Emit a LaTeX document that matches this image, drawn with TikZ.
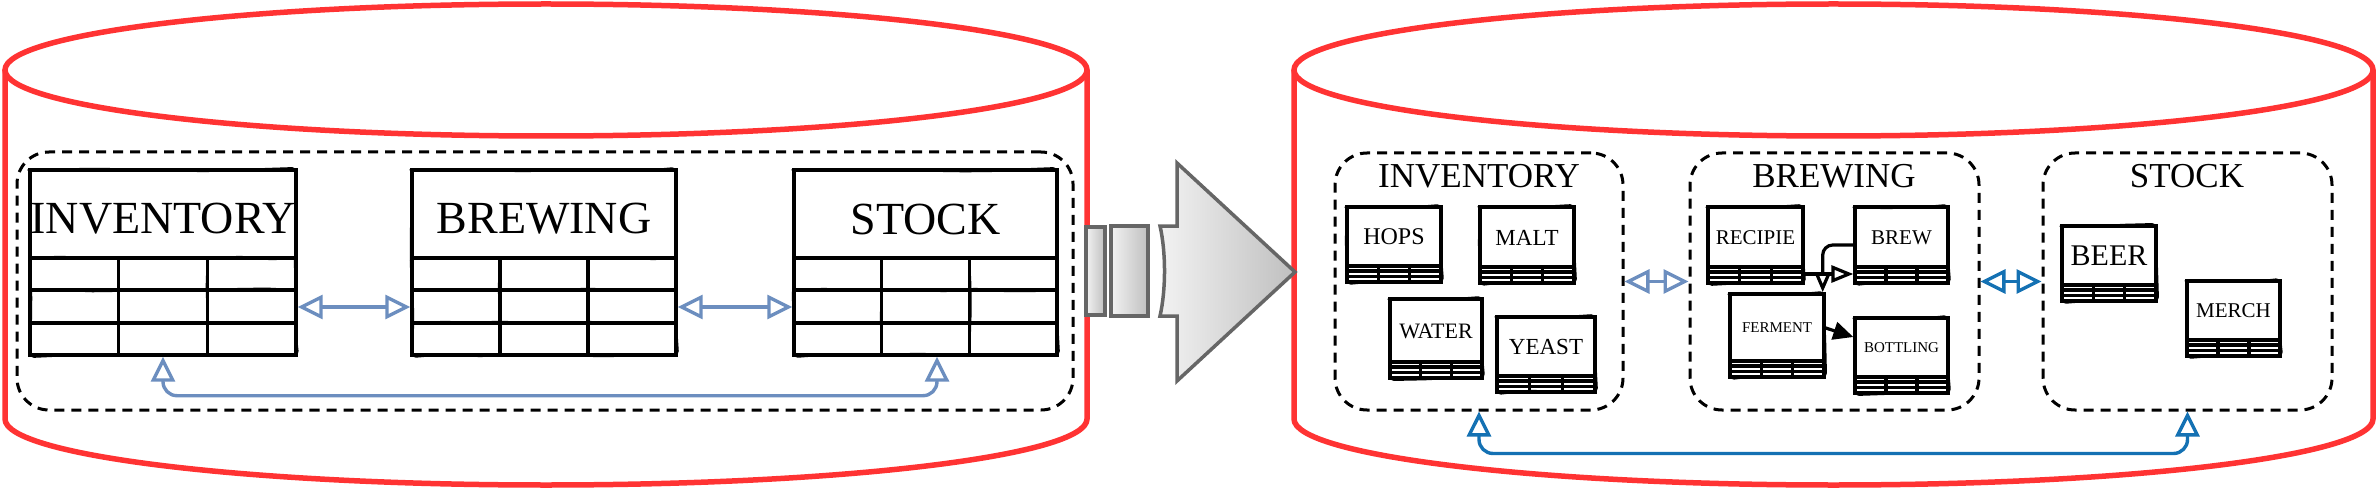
\documentclass[tikz,border=0pt]{standalone}
\usepackage{fontspec}
\setmainfont{Liberation Serif}
\usetikzlibrary{arrows.meta,fit,calc,decorations.pathmorphing}
\definecolor{redc}{HTML}{FF3333}
\definecolor{lblue}{HTML}{6C8EBF}
\definecolor{dblue}{HTML}{1471B3}
\definecolor{arrgray}{HTML}{666666}

% big table: name, x1, y1, x2, y2, text
\newcommand\btab[6]{%
  \node[tb, fit={(#2,#3) (#4,#5)}] (#1) {};
  \draw[sketchy] (#2,#3) rectangle (#4,#5);
  \pgfmathsetmacro\hA{#3+88}\pgfmathsetmacro\hB{#3+120}\pgfmathsetmacro\hC{#3+153}%
  \pgfmathsetmacro\vA{#2+(#4-#2)/3}\pgfmathsetmacro\vB{#2+2*(#4-#2)/3}%
  \pgfmathsetmacro\xm{(#2+#4)/2}\pgfmathsetmacro\ym{#3+49}%
  \draw[tl] (#2,\hA) -- (#4,\hA) (#2,\hB) -- (#4,\hB) (#2,\hC) -- (#4,\hC)
            (\vA,\hA) -- (\vA,#5) (\vB,\hA) -- (\vB,#5);
  \draw[sketchy] (#2,\hA) -- (#4,\hA) (#2,\hB) -- (#4,\hB) (#2,\hC) -- (#4,\hC)
            (\vA,\hA) -- (\vA,#5) (\vB,\hA) -- (\vB,#5);
  \node[btitle] (#1T) at (\xm,\ym) {#6};
}
% mini table: name, x1, y1, x2, y2, text, font size
\newcommand\mtab[7]{%
  \node[mtbox, fit={(#2,#3) (#4,#5)}] (#1) {};
  \draw[sketchy] (#2,#3) rectangle (#4,#5);
  \pgfmathsetmacro\hA{#5-16}\pgfmathsetmacro\hB{#5-11}\pgfmathsetmacro\hC{#5-5.5}%
  \pgfmathsetmacro\vA{#2+(#4-#2)/3}\pgfmathsetmacro\vB{#2+2*(#4-#2)/3}%
  \pgfmathsetmacro\xm{(#2+#4)/2}\pgfmathsetmacro\ym{(#3+#5-15)/2}%
  \draw[mtline] (#2,\hA) -- (#4,\hA) (#2,\hB) -- (#4,\hB) (#2,\hC) -- (#4,\hC)
            (\vA,\hA) -- (\vA,#5) (\vB,\hA) -- (\vB,#5);
  \node[font=\fontsize{#7}{#7}\selectfont, inner sep=0pt] (#1T) at (\xm,\ym) {#6};
}

\begin{document}
\pgfmathsetseed{7}
\begin{tikzpicture}[x=1pt,y=-1pt,
  cyl/.style={draw=redc, line width=5.5pt},
  grp/.style={draw=black, line width=3pt, dash pattern=on 10pt off 7pt, rounded corners=32pt, inner sep=0pt},
  tb/.style={draw=black, line width=3.4pt, inner sep=0pt},
  tl/.style={draw=black, line width=3.2pt},
  sketchy/.style={draw=black, line width=1.5pt, rounded corners=4pt, decorate,
     decoration={random steps, segment length=30pt, amplitude=1.6pt}},
  btitle/.style={font=\fontsize{46}{46}\selectfont, inner sep=0pt},
  gtitle/.style={font=\fontsize{35}{35}\selectfont, inner sep=0pt},
  mtbox/.style={draw=black, line width=3.4pt, inner sep=0pt},
  mtline/.style={draw=black, line width=3.2pt},
  opentip/.style={>={Triangle[open,length=25pt,width=24pt]}},
  lconn/.style={draw=lblue, line width=3.4pt, opentip},
  dconn/.style={draw=dblue, line width=3.4pt, opentip},
  bconn/.style={draw=black, line width=3.2pt},
  stripe/.style={draw=arrgray, line width=3.5pt, left color=gray!10, right color=gray!50},
]
\useasboundingbox (0,0) rectangle (2376,489);

% cylinders
\draw[cyl, fill=white] (5,70) -- (5,419) .. controls (5,455.5) and (247.2,485) .. (546,485)
   .. controls (844.8,485) and (1087,455.5) .. (1087,419) -- (1087,70);
\draw[cyl] (546,70) ellipse [x radius=541, y radius=66];
\draw[cyl, fill=white] (1294,70) -- (1294,419) .. controls (1294,455.5) and (1536,485) .. (1833.5,485)
   .. controls (2131,485) and (2373,455.5) .. (2373,419) -- (2373,70);
\draw[cyl] (1833.5,70) ellipse [x radius=539.5, y radius=66];

% left group
\node[grp, fit={(17,152) (1073,410)}] (lgrp) {};
\btab{tinv}{30}{170}{296}{355}{INVENTORY}
\btab{tbrew}{412}{170}{676}{355}{BREWING}
\btab{tstock}{794}{170}{1057}{355}{STOCK}

\draw[lconn,<->] ([yshift=-44.5pt]tinv.east) -- ([yshift=-44.5pt]tbrew.west);
\draw[lconn,<->] ([yshift=-44.5pt]tbrew.east) -- ([yshift=-44.5pt]tstock.west);
\draw[lconn,<->, rounded corners=14pt] (tinv.south) -- ++(0,39) -| ([xshift=11.5pt]tstock.south);

% right groups
\node[grp, fit={(1335,153) (1623,410)}] (rinv) {};
\node[grp, fit={(1690,153) (1979,410)}] (rbrew) {};
\node[grp, fit={(2043,153) (2332,410)}] (rstock) {};
\node[gtitle] (rinvT) at (1479,176.5) {INVENTORY};
\node[gtitle] (rbrewT) at (1834,176.5) {BREWING};
\node[gtitle] (rstockT) at (2187,176.5) {STOCK};

\mtab{hops}{1347}{207}{1441}{282}{HOPS}{24}
\mtab{malt}{1480}{207}{1574}{283}{MALT}{23}
\mtab{water}{1390}{299}{1482}{378}{WATER}{22}
\mtab{yeast}{1497}{317}{1595}{392}{YEAST}{23}
\mtab{recipie}{1708}{207}{1803}{283}{RECIPIE}{21}
\mtab{brew}{1855}{207}{1948}{283}{BREW}{21}
\mtab{ferment}{1730}{294}{1824}{377}{FERMENT}{15}
\mtab{bottling}{1855}{318}{1948}{393}{BOTTLING}{15}
\mtab{beer}{2062}{226}{2156}{301}{BEER}{30}
\mtab{merch}{2187}{281}{2280}{356}{MERCH}{21}

\draw[bconn, -{Triangle[open,length=22pt,width=17pt]}] ([yshift=-29pt]recipie.east) -- ([yshift=-29pt]brew.west);
\draw[bconn, -{Triangle[open,length=20pt,width=16pt]}, rounded corners=10pt] (brew.west) -| ([xshift=-3pt]ferment.north east);
\draw[bconn, -{Triangle[length=20pt,width=18pt]}] ([yshift=7.5pt]ferment.east) -- ([yshift=18.5pt]bottling.west);

\draw[lconn,<->] (rinv.east) -- (rbrew.west);
\draw[dconn,<->] (rbrew.east) -- (rstock.west);
\draw[dconn,<->, rounded corners=14pt] (rinv.south) -- ++(0,42) -| (rstock.south);

% striped block arrow between the databases
\draw[stripe] (1086,227) rectangle (1105,315);
\draw[stripe] (1111,226) rectangle (1148,316);
\draw[stripe, line join=miter] (1160,226) -- (1177,226) -- (1177,163) -- (1295,272) -- (1177,381) -- (1177,316) -- (1160,316)
   .. controls (1166,290) and (1166,252) .. (1160,226) -- cycle;
\end{tikzpicture}
\end{document}
